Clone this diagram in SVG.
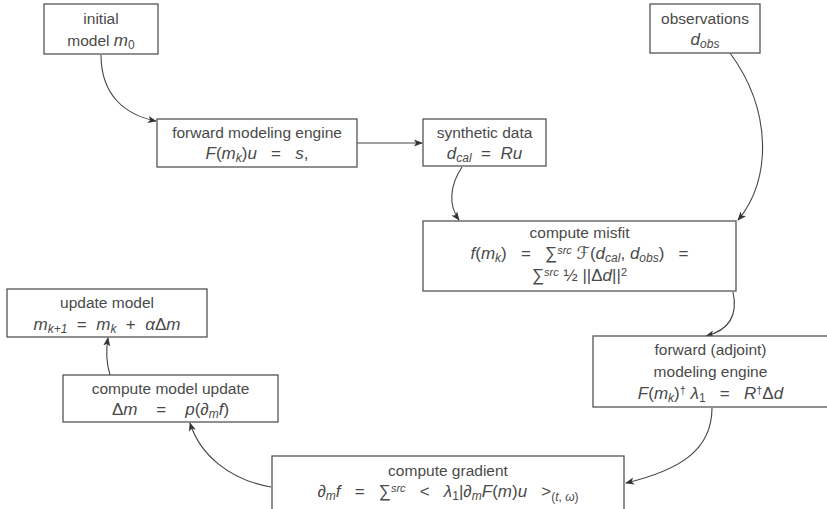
<svg xmlns="http://www.w3.org/2000/svg" width="827" height="509" viewBox="0 0 827 509">
<style>
.box{fill:#fff;stroke:#555;stroke-width:1.3}
.t{font-family:"Liberation Sans","DejaVu Sans",sans-serif;font-size:15.5px;fill:#4a4a4a;text-anchor:middle}
.f{font-size:17px}
.m{font-style:italic}
.s{font-size:12px}
.u{font-size:11px}
.c{fill:none;stroke:#444;stroke-width:1.1}
</style>
<defs>
<marker id="ah" viewBox="0 0 10 10" refX="9" refY="5" markerWidth="9" markerHeight="9" markerUnits="userSpaceOnUse" orient="auto">
<path d="M0,1 L10,5 L0,9 L2.5,5 Z" fill="#333"/>
</marker>
</defs>
<g id="connectors">
<path class="c" marker-end="url(#ah)" d="M101,55 C101,95 125,115 156,121"/>
<path class="c" marker-end="url(#ah)" d="M357,143 L422,143"/>
<path class="c" marker-end="url(#ah)" d="M462,167 C450,185 448,205 459,220"/>
<path class="c" marker-end="url(#ah)" d="M730,53 C772,110 772,180 738,220"/>
<path class="c" marker-end="url(#ah)" d="M733,292 C738,315 730,330 706,336"/>
<path class="c" marker-end="url(#ah)" d="M712,408 C712,450 680,470 626,483"/>
<path class="c" marker-end="url(#ah)" d="M271,487 C230,480 200,455 190,423"/>
<path class="c" marker-end="url(#ah)" d="M110,375 C106,362 106,350 108,338"/>
</g>
<g id="initial">
<rect class="box" x="44" y="4" width="114" height="50"/>
<text class="t" x="101" y="24">initial</text>
<text class="t" x="101" y="46">model <tspan class="m f">m</tspan><tspan class="s" dy="3">0</tspan></text>
</g>
<g id="observations">
<rect class="box" x="650" y="4" width="110" height="49"/>
<text class="t" x="705" y="24">observations</text>
<text class="t f" x="705" y="45"><tspan class="m">d</tspan><tspan class="s m" dy="3">obs</tspan></text>
</g>
<g id="forward">
<rect class="box" x="157" y="119" width="200" height="48"/>
<text class="t" x="257" y="138">forward modeling engine</text>
<text class="t f" x="257" y="159" xml:space="preserve"><tspan class="m">F</tspan>(<tspan class="m">m</tspan><tspan class="s m" dy="3">k</tspan><tspan dy="-3">)</tspan><tspan class="m">u</tspan>   =   <tspan class="m">s</tspan>,</text>
</g>
<g id="synthetic">
<rect class="box" x="423" y="119" width="123" height="47"/>
<text class="t" x="484.5" y="138">synthetic data</text>
<text class="t f" x="484.5" y="159" xml:space="preserve"><tspan class="m">d</tspan><tspan class="s m" dy="3">cal</tspan><tspan dy="-3">  =  </tspan><tspan class="m">Ru</tspan></text>
</g>
<g id="misfit">
<rect class="box" x="423" y="221" width="313" height="70"/>
<text class="t" x="579.5" y="238">compute misfit</text>
<text class="t f" x="579.5" y="259" xml:space="preserve"><tspan class="m">f</tspan>(<tspan class="m">m</tspan><tspan class="s m" dy="3">k</tspan><tspan dy="-3">)   =   ∑</tspan><tspan class="u m" dy="-5">src</tspan><tspan dy="5"> </tspan><tspan class="m">ℱ</tspan>(<tspan class="m">d</tspan><tspan class="s m" dy="3">cal</tspan><tspan dy="-3">, </tspan><tspan class="m">d</tspan><tspan class="s m" dy="3">obs</tspan><tspan dy="-3">)   =</tspan></text>
<text class="t f" x="579.5" y="281" xml:space="preserve">∑<tspan class="u m" dy="-5">src</tspan><tspan dy="5"> ½ ||Δ</tspan><tspan class="m">d</tspan>||<tspan class="u" dy="-5">2</tspan></text>
</g>
<g id="update">
<rect class="box" x="7" y="289" width="200" height="48"/>
<text class="t" x="107" y="308">update model</text>
<text class="t f" x="107" y="330" xml:space="preserve"><tspan class="m">m</tspan><tspan class="s m" dy="3">k+1</tspan><tspan dy="-3">  =  </tspan><tspan class="m">m</tspan><tspan class="s m" dy="3">k</tspan><tspan dy="-3">  +  </tspan><tspan class="m">α</tspan>Δ<tspan class="m">m</tspan></text>
</g>
<g id="adjoint">
<rect class="box" x="593" y="336" width="240" height="71"/>
<text class="t" x="710.5" y="355">forward (adjoint)</text>
<text class="t" x="710.5" y="377">modeling engine</text>
<text class="t f" x="710.5" y="399" xml:space="preserve"><tspan class="m">F</tspan>(<tspan class="m">m</tspan><tspan class="s m" dy="3">k</tspan><tspan dy="-3">)</tspan><tspan class="u" dy="-5">†</tspan><tspan class="m" dy="5"> λ</tspan><tspan class="s" dy="3">1</tspan><tspan dy="-3">   =   </tspan><tspan class="m">R</tspan><tspan class="u" dy="-5">†</tspan><tspan dy="5">Δ</tspan><tspan class="m">d</tspan></text>
</g>
<g id="modelupdate">
<rect class="box" x="63" y="375" width="215" height="47"/>
<text class="t" x="170.5" y="394">compute model update</text>
<text class="t f" x="170.5" y="415" xml:space="preserve">Δ<tspan class="m">m</tspan>    =    <tspan class="m">p</tspan>(∂<tspan class="s m" dy="3">m</tspan><tspan class="m" dy="-3">f</tspan>)</text>
</g>
<g id="gradient">
<rect class="box" x="272" y="456" width="352" height="60"/>
<text class="t" x="448" y="476">compute gradient</text>
<text class="t f" x="448" y="497" xml:space="preserve">∂<tspan class="s m" dy="3">m</tspan><tspan class="m" dy="-3">f</tspan>   =   ∑<tspan class="u m" dy="-5">src</tspan><tspan dy="5">   &lt;   </tspan><tspan class="m">λ</tspan><tspan class="s" dy="3">1</tspan><tspan dy="-3">|∂</tspan><tspan class="s m" dy="3">m</tspan><tspan class="m" dy="-3">F</tspan>(<tspan class="m">m</tspan>)<tspan class="m">u</tspan>   &gt;<tspan class="s" dy="4">(</tspan><tspan class="s m">t</tspan><tspan class="s">, </tspan><tspan class="s m">ω</tspan><tspan class="s">)</tspan></text>
</g>
</svg>
